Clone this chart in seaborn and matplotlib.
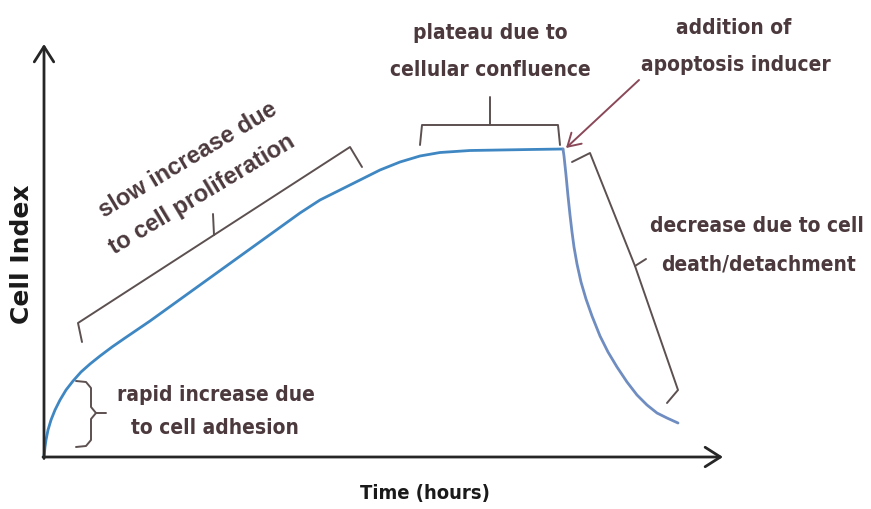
import matplotlib
matplotlib.use("Agg")
import matplotlib.pyplot as plt
from matplotlib import font_manager
import seaborn as sns
import pandas as pd

# ---- data (schematic, arbitrary units) ----
growth_time = [0, 1, 2, 4, 7, 11, 16, 22, 29, 37, 46, 56, 68, 81, 106, 156, 206,
               256, 276, 296, 316, 336, 356, 376, 396, 426, 456, 486, 519]
growth_ci = [0, 10, 17, 27, 37, 47, 57, 67, 76, 85, 93, 101, 110, 119, 136, 172,
             208, 244, 257, 267, 277, 287, 295, 301, 304.5, 306.5, 307, 307.5, 308]
death_time = [519, 520, 522, 524, 526, 528, 530, 533, 537, 542, 548, 556, 564,
              573, 583, 593, 603, 613, 623, 634]
death_ci = [308, 301, 282, 261, 242, 225, 210, 193, 175, 158, 141, 121, 105, 90,
            75, 62, 52, 44, 39, 34]

x_label = "Time (hours)"
y_label = "Cell Index"
label_plateau = ["plateau due to", "cellular confluence"]
label_inducer = ["addition of", "apoptosis inducer"]
label_decrease = ["decrease due to cell", "death/detachment"]
label_rapid = ["rapid increase due", "to cell adhesion"]
label_slow = ["slow increase due", "to cell proliferation"]

# ---- fonts ----
sns.set_theme(style="white")
names = {f.name for f in font_manager.fontManager.ttflist}
if "Liberation Sans Narrow" in names:
    NARROW = dict(family="Liberation Sans Narrow", weight="bold")
    FS = 17
else:
    NARROW = dict(family="DejaVu Sans", stretch="condensed", weight="bold")
    FS = 15
WIDE = "Liberation Sans" if "Liberation Sans" in names else "DejaVu Sans"
plt.rcParams["font.family"] = ["DejaVu Sans"]

TXT = "#4b393d"
BRK = "#5c5050"

df = pd.DataFrame({
    "time": growth_time + death_time,
    "ci": growth_ci + death_ci,
    "phase": ["growth"] * len(growth_time) + ["death"] * len(death_time),
})

fig = plt.figure(figsize=(8.71, 5.09), dpi=100)
ax = fig.add_axes([0, 0, 1, 1])
sns.lineplot(data=df, x="time", y="ci", hue="phase",
             palette={"growth": "#3f87c2", "death": "#6f8dc0"},
             lw=2.0, legend=False, ax=ax, estimator=None, sort=False)
ax.set_xlim(-44, 827)
ax.set_ylim(-52, 457)
ax.axis("off")

# axes arrows
axis_arrow = dict(arrowstyle="->,head_length=0.55,head_width=0.35", lw=2.0,
                  color="#262626", mutation_scale=20, shrinkA=0, shrinkB=0)
ax.annotate("", xy=(0, 413), xytext=(0, -1.5), arrowprops=axis_arrow)
ax.annotate("", xy=(679, 0), xytext=(-1, 0), arrowprops=axis_arrow)

ax.text(381, -37, x_label, ha="center", va="center", fontsize=FS - 0.5,
        color="#1a1a1a", **NARROW)
ax.text(-22, 203, y_label, ha="center", va="center", rotation=90, fontsize=18,
        fontweight="bold", color="#1a1a1a", family="DejaVu Sans")

# helper: convert picture-like positions to data
def P(px, py):
    return (px - 44, 457 - py)

def poly(pts, **kw):
    xs, ys = zip(*[P(*p) for p in pts])
    ax.plot(xs, ys, color=BRK, lw=1.4, solid_capstyle="round",
            solid_joinstyle="round", **kw)

# brackets
poly([(76, 381), (86, 382), (91, 388), (91, 407), (96, 413), (106, 413)])
poly([(96, 413), (91, 419), (91, 440), (86, 446), (76, 447)])
poly([(82, 342), (78, 323), (350, 147), (362, 167)])
poly([(214, 235), (213, 214)])
poly([(420, 145), (422, 125), (558, 125), (560, 145)])
poly([(490, 125), (490, 97)])
poly([(572, 162), (590, 153), (635, 266), (678, 390), (667, 403)])
poly([(635, 266), (646, 259)])

# apoptosis arrow
ax.annotate("", xy=P(566, 148), xytext=P(639, 80),
            arrowprops=dict(arrowstyle="->,head_length=0.5,head_width=0.3",
                            lw=1.4, color="#8a4858", mutation_scale=18,
                            shrinkA=0, shrinkB=0))

def txt(px, py, s, rot=0, **kw):
    style = dict(NARROW, fontsize=FS)
    style.update(kw)
    ax.text(*P(px, py), s, ha="center", va="center", color=TXT,
            rotation=rot, rotation_mode="anchor", **style)

txt(490, 33, label_plateau[0]); txt(490, 70, label_plateau[1])
txt(734, 28, label_inducer[0]); txt(736, 65, label_inducer[1])
txt(757, 226, label_decrease[0]); txt(758, 265, label_decrease[1])
txt(216, 395, label_rapid[0]); txt(215, 428, label_rapid[1])
txt(188, 160, label_slow[0], rot=31, family=WIDE, fontsize=17)
txt(202, 194, label_slow[1], rot=31, family=WIDE, fontsize=17)

fig.savefig("out.png", dpi=100, facecolor="white")
